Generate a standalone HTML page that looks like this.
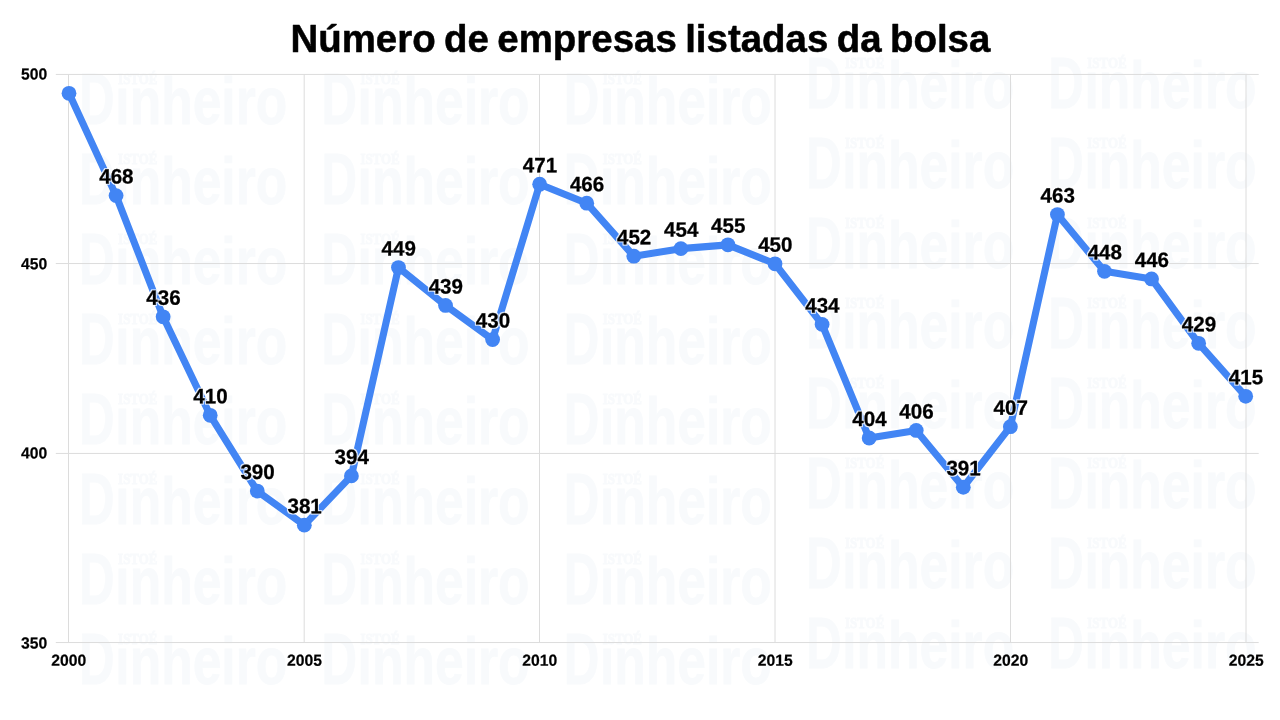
<!DOCTYPE html>
<html lang="pt-BR">
<head>
<meta charset="utf-8">
<title>Número de empresas listadas da bolsa</title>
<style>
html,body{margin:0;padding:0;background:#fff;}
body{width:1280px;height:720px;overflow:hidden;position:relative;font-family:"Liberation Sans",sans-serif;}
svg{position:absolute;left:0;top:0;display:block;}
.title{font-family:"Liberation Sans",sans-serif;font-weight:700;font-size:37.9px;word-spacing:-2.2px;fill:#000;stroke:#000;stroke-width:0.5px;stroke-linejoin:round;}
.ax{font-family:"Liberation Sans",sans-serif;font-weight:700;font-size:15.95px;fill:#000;stroke:#000;stroke-width:0.2px;}
.lb{font-family:"Liberation Sans",sans-serif;font-weight:700;font-size:20.9px;fill:#000;stroke:#000;stroke-width:0.3px;stroke-linejoin:round;}
.grid line{stroke:#dcdcdc;stroke-width:1;}
.wm{fill:#f8fafc;stroke:#f8fafc;}
.wm .d{font-family:"Liberation Sans",sans-serif;font-weight:700;font-size:66.5px;stroke-width:0.8px;stroke-linejoin:miter;}
.wm .i{font-family:"Liberation Serif",serif;font-weight:700;font-size:15.5px;stroke-width:1px;}
</style>
</head>
<body>
<svg width="1280" height="720" viewBox="0 0 1280 720">
<rect width="1280" height="720" fill="#fff"/>
<defs><filter id="halo" x="-2%" y="-2%" width="104%" height="104%" color-interpolation-filters="sRGB"><feMorphology in="SourceAlpha" operator="dilate" radius="1" result="d"/><feGaussianBlur in="d" stdDeviation="0.4" result="b"/><feFlood flood-color="#fff" flood-opacity="0.9"/><feComposite in2="b" operator="in" result="h"/><feMerge><feMergeNode in="h"/><feMergeNode in="SourceGraphic"/></feMerge></filter></defs>
<g class="wm">
<g transform="translate(81.5 73.5)"><text class="d" y="50.4"><tspan x="-2.4" style="font-size:71.5px" textLength="35.6" lengthAdjust="spacingAndGlyphs">D</tspan><tspan x="33.8" textLength="172" lengthAdjust="spacingAndGlyphs">inheiro</tspan></text><rect x="35" y="-4" width="42" height="15.5" fill="#fff" stroke="none"/><text class="i" x="36.6" y="10.4" textLength="39.3" lengthAdjust="spacingAndGlyphs">ISTOÉ</text></g>
<g transform="translate(81.5 153.5)"><text class="d" y="50.4"><tspan x="-2.4" style="font-size:71.5px" textLength="35.6" lengthAdjust="spacingAndGlyphs">D</tspan><tspan x="33.8" textLength="172" lengthAdjust="spacingAndGlyphs">inheiro</tspan></text><rect x="35" y="-4" width="42" height="15.5" fill="#fff" stroke="none"/><text class="i" x="36.6" y="10.4" textLength="39.3" lengthAdjust="spacingAndGlyphs">ISTOÉ</text></g>
<g transform="translate(81.5 233.5)"><text class="d" y="50.4"><tspan x="-2.4" style="font-size:71.5px" textLength="35.6" lengthAdjust="spacingAndGlyphs">D</tspan><tspan x="33.8" textLength="172" lengthAdjust="spacingAndGlyphs">inheiro</tspan></text><rect x="35" y="-4" width="42" height="15.5" fill="#fff" stroke="none"/><text class="i" x="36.6" y="10.4" textLength="39.3" lengthAdjust="spacingAndGlyphs">ISTOÉ</text></g>
<g transform="translate(81.5 313.5)"><text class="d" y="50.4"><tspan x="-2.4" style="font-size:71.5px" textLength="35.6" lengthAdjust="spacingAndGlyphs">D</tspan><tspan x="33.8" textLength="172" lengthAdjust="spacingAndGlyphs">inheiro</tspan></text><rect x="35" y="-4" width="42" height="15.5" fill="#fff" stroke="none"/><text class="i" x="36.6" y="10.4" textLength="39.3" lengthAdjust="spacingAndGlyphs">ISTOÉ</text></g>
<g transform="translate(81.5 393.5)"><text class="d" y="50.4"><tspan x="-2.4" style="font-size:71.5px" textLength="35.6" lengthAdjust="spacingAndGlyphs">D</tspan><tspan x="33.8" textLength="172" lengthAdjust="spacingAndGlyphs">inheiro</tspan></text><rect x="35" y="-4" width="42" height="15.5" fill="#fff" stroke="none"/><text class="i" x="36.6" y="10.4" textLength="39.3" lengthAdjust="spacingAndGlyphs">ISTOÉ</text></g>
<g transform="translate(81.5 473.5)"><text class="d" y="50.4"><tspan x="-2.4" style="font-size:71.5px" textLength="35.6" lengthAdjust="spacingAndGlyphs">D</tspan><tspan x="33.8" textLength="172" lengthAdjust="spacingAndGlyphs">inheiro</tspan></text><rect x="35" y="-4" width="42" height="15.5" fill="#fff" stroke="none"/><text class="i" x="36.6" y="10.4" textLength="39.3" lengthAdjust="spacingAndGlyphs">ISTOÉ</text></g>
<g transform="translate(81.5 553.5)"><text class="d" y="50.4"><tspan x="-2.4" style="font-size:71.5px" textLength="35.6" lengthAdjust="spacingAndGlyphs">D</tspan><tspan x="33.8" textLength="172" lengthAdjust="spacingAndGlyphs">inheiro</tspan></text><rect x="35" y="-4" width="42" height="15.5" fill="#fff" stroke="none"/><text class="i" x="36.6" y="10.4" textLength="39.3" lengthAdjust="spacingAndGlyphs">ISTOÉ</text></g>
<g transform="translate(81.5 633.5)"><text class="d" y="50.4"><tspan x="-2.4" style="font-size:71.5px" textLength="35.6" lengthAdjust="spacingAndGlyphs">D</tspan><tspan x="33.8" textLength="172" lengthAdjust="spacingAndGlyphs">inheiro</tspan></text><rect x="35" y="-4" width="42" height="15.5" fill="#fff" stroke="none"/><text class="i" x="36.6" y="10.4" textLength="39.3" lengthAdjust="spacingAndGlyphs">ISTOÉ</text></g>
<g transform="translate(323.8 73.5)"><text class="d" y="50.4"><tspan x="-2.4" style="font-size:71.5px" textLength="35.6" lengthAdjust="spacingAndGlyphs">D</tspan><tspan x="33.8" textLength="172" lengthAdjust="spacingAndGlyphs">inheiro</tspan></text><rect x="35" y="-4" width="42" height="15.5" fill="#fff" stroke="none"/><text class="i" x="36.6" y="10.4" textLength="39.3" lengthAdjust="spacingAndGlyphs">ISTOÉ</text></g>
<g transform="translate(323.8 153.5)"><text class="d" y="50.4"><tspan x="-2.4" style="font-size:71.5px" textLength="35.6" lengthAdjust="spacingAndGlyphs">D</tspan><tspan x="33.8" textLength="172" lengthAdjust="spacingAndGlyphs">inheiro</tspan></text><rect x="35" y="-4" width="42" height="15.5" fill="#fff" stroke="none"/><text class="i" x="36.6" y="10.4" textLength="39.3" lengthAdjust="spacingAndGlyphs">ISTOÉ</text></g>
<g transform="translate(323.8 233.5)"><text class="d" y="50.4"><tspan x="-2.4" style="font-size:71.5px" textLength="35.6" lengthAdjust="spacingAndGlyphs">D</tspan><tspan x="33.8" textLength="172" lengthAdjust="spacingAndGlyphs">inheiro</tspan></text><rect x="35" y="-4" width="42" height="15.5" fill="#fff" stroke="none"/><text class="i" x="36.6" y="10.4" textLength="39.3" lengthAdjust="spacingAndGlyphs">ISTOÉ</text></g>
<g transform="translate(323.8 313.5)"><text class="d" y="50.4"><tspan x="-2.4" style="font-size:71.5px" textLength="35.6" lengthAdjust="spacingAndGlyphs">D</tspan><tspan x="33.8" textLength="172" lengthAdjust="spacingAndGlyphs">inheiro</tspan></text><rect x="35" y="-4" width="42" height="15.5" fill="#fff" stroke="none"/><text class="i" x="36.6" y="10.4" textLength="39.3" lengthAdjust="spacingAndGlyphs">ISTOÉ</text></g>
<g transform="translate(323.8 393.5)"><text class="d" y="50.4"><tspan x="-2.4" style="font-size:71.5px" textLength="35.6" lengthAdjust="spacingAndGlyphs">D</tspan><tspan x="33.8" textLength="172" lengthAdjust="spacingAndGlyphs">inheiro</tspan></text><rect x="35" y="-4" width="42" height="15.5" fill="#fff" stroke="none"/><text class="i" x="36.6" y="10.4" textLength="39.3" lengthAdjust="spacingAndGlyphs">ISTOÉ</text></g>
<g transform="translate(323.8 473.5)"><text class="d" y="50.4"><tspan x="-2.4" style="font-size:71.5px" textLength="35.6" lengthAdjust="spacingAndGlyphs">D</tspan><tspan x="33.8" textLength="172" lengthAdjust="spacingAndGlyphs">inheiro</tspan></text><rect x="35" y="-4" width="42" height="15.5" fill="#fff" stroke="none"/><text class="i" x="36.6" y="10.4" textLength="39.3" lengthAdjust="spacingAndGlyphs">ISTOÉ</text></g>
<g transform="translate(323.8 553.5)"><text class="d" y="50.4"><tspan x="-2.4" style="font-size:71.5px" textLength="35.6" lengthAdjust="spacingAndGlyphs">D</tspan><tspan x="33.8" textLength="172" lengthAdjust="spacingAndGlyphs">inheiro</tspan></text><rect x="35" y="-4" width="42" height="15.5" fill="#fff" stroke="none"/><text class="i" x="36.6" y="10.4" textLength="39.3" lengthAdjust="spacingAndGlyphs">ISTOÉ</text></g>
<g transform="translate(323.8 633.5)"><text class="d" y="50.4"><tspan x="-2.4" style="font-size:71.5px" textLength="35.6" lengthAdjust="spacingAndGlyphs">D</tspan><tspan x="33.8" textLength="172" lengthAdjust="spacingAndGlyphs">inheiro</tspan></text><rect x="35" y="-4" width="42" height="15.5" fill="#fff" stroke="none"/><text class="i" x="36.6" y="10.4" textLength="39.3" lengthAdjust="spacingAndGlyphs">ISTOÉ</text></g>
<g transform="translate(566.1 73.5)"><text class="d" y="50.4"><tspan x="-2.4" style="font-size:71.5px" textLength="35.6" lengthAdjust="spacingAndGlyphs">D</tspan><tspan x="33.8" textLength="172" lengthAdjust="spacingAndGlyphs">inheiro</tspan></text><rect x="35" y="-4" width="42" height="15.5" fill="#fff" stroke="none"/><text class="i" x="36.6" y="10.4" textLength="39.3" lengthAdjust="spacingAndGlyphs">ISTOÉ</text></g>
<g transform="translate(566.1 153.5)"><text class="d" y="50.4"><tspan x="-2.4" style="font-size:71.5px" textLength="35.6" lengthAdjust="spacingAndGlyphs">D</tspan><tspan x="33.8" textLength="172" lengthAdjust="spacingAndGlyphs">inheiro</tspan></text><rect x="35" y="-4" width="42" height="15.5" fill="#fff" stroke="none"/><text class="i" x="36.6" y="10.4" textLength="39.3" lengthAdjust="spacingAndGlyphs">ISTOÉ</text></g>
<g transform="translate(566.1 233.5)"><text class="d" y="50.4"><tspan x="-2.4" style="font-size:71.5px" textLength="35.6" lengthAdjust="spacingAndGlyphs">D</tspan><tspan x="33.8" textLength="172" lengthAdjust="spacingAndGlyphs">inheiro</tspan></text><rect x="35" y="-4" width="42" height="15.5" fill="#fff" stroke="none"/><text class="i" x="36.6" y="10.4" textLength="39.3" lengthAdjust="spacingAndGlyphs">ISTOÉ</text></g>
<g transform="translate(566.1 313.5)"><text class="d" y="50.4"><tspan x="-2.4" style="font-size:71.5px" textLength="35.6" lengthAdjust="spacingAndGlyphs">D</tspan><tspan x="33.8" textLength="172" lengthAdjust="spacingAndGlyphs">inheiro</tspan></text><rect x="35" y="-4" width="42" height="15.5" fill="#fff" stroke="none"/><text class="i" x="36.6" y="10.4" textLength="39.3" lengthAdjust="spacingAndGlyphs">ISTOÉ</text></g>
<g transform="translate(566.1 393.5)"><text class="d" y="50.4"><tspan x="-2.4" style="font-size:71.5px" textLength="35.6" lengthAdjust="spacingAndGlyphs">D</tspan><tspan x="33.8" textLength="172" lengthAdjust="spacingAndGlyphs">inheiro</tspan></text><rect x="35" y="-4" width="42" height="15.5" fill="#fff" stroke="none"/><text class="i" x="36.6" y="10.4" textLength="39.3" lengthAdjust="spacingAndGlyphs">ISTOÉ</text></g>
<g transform="translate(566.1 473.5)"><text class="d" y="50.4"><tspan x="-2.4" style="font-size:71.5px" textLength="35.6" lengthAdjust="spacingAndGlyphs">D</tspan><tspan x="33.8" textLength="172" lengthAdjust="spacingAndGlyphs">inheiro</tspan></text><rect x="35" y="-4" width="42" height="15.5" fill="#fff" stroke="none"/><text class="i" x="36.6" y="10.4" textLength="39.3" lengthAdjust="spacingAndGlyphs">ISTOÉ</text></g>
<g transform="translate(566.1 553.5)"><text class="d" y="50.4"><tspan x="-2.4" style="font-size:71.5px" textLength="35.6" lengthAdjust="spacingAndGlyphs">D</tspan><tspan x="33.8" textLength="172" lengthAdjust="spacingAndGlyphs">inheiro</tspan></text><rect x="35" y="-4" width="42" height="15.5" fill="#fff" stroke="none"/><text class="i" x="36.6" y="10.4" textLength="39.3" lengthAdjust="spacingAndGlyphs">ISTOÉ</text></g>
<g transform="translate(566.1 633.5)"><text class="d" y="50.4"><tspan x="-2.4" style="font-size:71.5px" textLength="35.6" lengthAdjust="spacingAndGlyphs">D</tspan><tspan x="33.8" textLength="172" lengthAdjust="spacingAndGlyphs">inheiro</tspan></text><rect x="35" y="-4" width="42" height="15.5" fill="#fff" stroke="none"/><text class="i" x="36.6" y="10.4" textLength="39.3" lengthAdjust="spacingAndGlyphs">ISTOÉ</text></g>
<g transform="translate(808.4 57.5)"><text class="d" y="50.4"><tspan x="-2.4" style="font-size:71.5px" textLength="35.6" lengthAdjust="spacingAndGlyphs">D</tspan><tspan x="33.8" textLength="172" lengthAdjust="spacingAndGlyphs">inheiro</tspan></text><rect x="35" y="-4" width="42" height="15.5" fill="#fff" stroke="none"/><text class="i" x="36.6" y="10.4" textLength="39.3" lengthAdjust="spacingAndGlyphs">ISTOÉ</text></g>
<g transform="translate(808.4 137.5)"><text class="d" y="50.4"><tspan x="-2.4" style="font-size:71.5px" textLength="35.6" lengthAdjust="spacingAndGlyphs">D</tspan><tspan x="33.8" textLength="172" lengthAdjust="spacingAndGlyphs">inheiro</tspan></text><rect x="35" y="-4" width="42" height="15.5" fill="#fff" stroke="none"/><text class="i" x="36.6" y="10.4" textLength="39.3" lengthAdjust="spacingAndGlyphs">ISTOÉ</text></g>
<g transform="translate(808.4 217.5)"><text class="d" y="50.4"><tspan x="-2.4" style="font-size:71.5px" textLength="35.6" lengthAdjust="spacingAndGlyphs">D</tspan><tspan x="33.8" textLength="172" lengthAdjust="spacingAndGlyphs">inheiro</tspan></text><rect x="35" y="-4" width="42" height="15.5" fill="#fff" stroke="none"/><text class="i" x="36.6" y="10.4" textLength="39.3" lengthAdjust="spacingAndGlyphs">ISTOÉ</text></g>
<g transform="translate(808.4 297.5)"><text class="d" y="50.4"><tspan x="-2.4" style="font-size:71.5px" textLength="35.6" lengthAdjust="spacingAndGlyphs">D</tspan><tspan x="33.8" textLength="172" lengthAdjust="spacingAndGlyphs">inheiro</tspan></text><rect x="35" y="-4" width="42" height="15.5" fill="#fff" stroke="none"/><text class="i" x="36.6" y="10.4" textLength="39.3" lengthAdjust="spacingAndGlyphs">ISTOÉ</text></g>
<g transform="translate(808.4 377.5)"><text class="d" y="50.4"><tspan x="-2.4" style="font-size:71.5px" textLength="35.6" lengthAdjust="spacingAndGlyphs">D</tspan><tspan x="33.8" textLength="172" lengthAdjust="spacingAndGlyphs">inheiro</tspan></text><rect x="35" y="-4" width="42" height="15.5" fill="#fff" stroke="none"/><text class="i" x="36.6" y="10.4" textLength="39.3" lengthAdjust="spacingAndGlyphs">ISTOÉ</text></g>
<g transform="translate(808.4 457.5)"><text class="d" y="50.4"><tspan x="-2.4" style="font-size:71.5px" textLength="35.6" lengthAdjust="spacingAndGlyphs">D</tspan><tspan x="33.8" textLength="172" lengthAdjust="spacingAndGlyphs">inheiro</tspan></text><rect x="35" y="-4" width="42" height="15.5" fill="#fff" stroke="none"/><text class="i" x="36.6" y="10.4" textLength="39.3" lengthAdjust="spacingAndGlyphs">ISTOÉ</text></g>
<g transform="translate(808.4 537.5)"><text class="d" y="50.4"><tspan x="-2.4" style="font-size:71.5px" textLength="35.6" lengthAdjust="spacingAndGlyphs">D</tspan><tspan x="33.8" textLength="172" lengthAdjust="spacingAndGlyphs">inheiro</tspan></text><rect x="35" y="-4" width="42" height="15.5" fill="#fff" stroke="none"/><text class="i" x="36.6" y="10.4" textLength="39.3" lengthAdjust="spacingAndGlyphs">ISTOÉ</text></g>
<g transform="translate(808.4 617.5)"><text class="d" y="50.4"><tspan x="-2.4" style="font-size:71.5px" textLength="35.6" lengthAdjust="spacingAndGlyphs">D</tspan><tspan x="33.8" textLength="172" lengthAdjust="spacingAndGlyphs">inheiro</tspan></text><rect x="35" y="-4" width="42" height="15.5" fill="#fff" stroke="none"/><text class="i" x="36.6" y="10.4" textLength="39.3" lengthAdjust="spacingAndGlyphs">ISTOÉ</text></g>
<g transform="translate(1050.7 57.5)"><text class="d" y="50.4"><tspan x="-2.4" style="font-size:71.5px" textLength="35.6" lengthAdjust="spacingAndGlyphs">D</tspan><tspan x="33.8" textLength="172" lengthAdjust="spacingAndGlyphs">inheiro</tspan></text><rect x="35" y="-4" width="42" height="15.5" fill="#fff" stroke="none"/><text class="i" x="36.6" y="10.4" textLength="39.3" lengthAdjust="spacingAndGlyphs">ISTOÉ</text></g>
<g transform="translate(1050.7 137.5)"><text class="d" y="50.4"><tspan x="-2.4" style="font-size:71.5px" textLength="35.6" lengthAdjust="spacingAndGlyphs">D</tspan><tspan x="33.8" textLength="172" lengthAdjust="spacingAndGlyphs">inheiro</tspan></text><rect x="35" y="-4" width="42" height="15.5" fill="#fff" stroke="none"/><text class="i" x="36.6" y="10.4" textLength="39.3" lengthAdjust="spacingAndGlyphs">ISTOÉ</text></g>
<g transform="translate(1050.7 217.5)"><text class="d" y="50.4"><tspan x="-2.4" style="font-size:71.5px" textLength="35.6" lengthAdjust="spacingAndGlyphs">D</tspan><tspan x="33.8" textLength="172" lengthAdjust="spacingAndGlyphs">inheiro</tspan></text><rect x="35" y="-4" width="42" height="15.5" fill="#fff" stroke="none"/><text class="i" x="36.6" y="10.4" textLength="39.3" lengthAdjust="spacingAndGlyphs">ISTOÉ</text></g>
<g transform="translate(1050.7 297.5)"><text class="d" y="50.4"><tspan x="-2.4" style="font-size:71.5px" textLength="35.6" lengthAdjust="spacingAndGlyphs">D</tspan><tspan x="33.8" textLength="172" lengthAdjust="spacingAndGlyphs">inheiro</tspan></text><rect x="35" y="-4" width="42" height="15.5" fill="#fff" stroke="none"/><text class="i" x="36.6" y="10.4" textLength="39.3" lengthAdjust="spacingAndGlyphs">ISTOÉ</text></g>
<g transform="translate(1050.7 377.5)"><text class="d" y="50.4"><tspan x="-2.4" style="font-size:71.5px" textLength="35.6" lengthAdjust="spacingAndGlyphs">D</tspan><tspan x="33.8" textLength="172" lengthAdjust="spacingAndGlyphs">inheiro</tspan></text><rect x="35" y="-4" width="42" height="15.5" fill="#fff" stroke="none"/><text class="i" x="36.6" y="10.4" textLength="39.3" lengthAdjust="spacingAndGlyphs">ISTOÉ</text></g>
<g transform="translate(1050.7 457.5)"><text class="d" y="50.4"><tspan x="-2.4" style="font-size:71.5px" textLength="35.6" lengthAdjust="spacingAndGlyphs">D</tspan><tspan x="33.8" textLength="172" lengthAdjust="spacingAndGlyphs">inheiro</tspan></text><rect x="35" y="-4" width="42" height="15.5" fill="#fff" stroke="none"/><text class="i" x="36.6" y="10.4" textLength="39.3" lengthAdjust="spacingAndGlyphs">ISTOÉ</text></g>
<g transform="translate(1050.7 537.5)"><text class="d" y="50.4"><tspan x="-2.4" style="font-size:71.5px" textLength="35.6" lengthAdjust="spacingAndGlyphs">D</tspan><tspan x="33.8" textLength="172" lengthAdjust="spacingAndGlyphs">inheiro</tspan></text><rect x="35" y="-4" width="42" height="15.5" fill="#fff" stroke="none"/><text class="i" x="36.6" y="10.4" textLength="39.3" lengthAdjust="spacingAndGlyphs">ISTOÉ</text></g>
<g transform="translate(1050.7 617.5)"><text class="d" y="50.4"><tspan x="-2.4" style="font-size:71.5px" textLength="35.6" lengthAdjust="spacingAndGlyphs">D</tspan><tspan x="33.8" textLength="172" lengthAdjust="spacingAndGlyphs">inheiro</tspan></text><rect x="35" y="-4" width="42" height="15.5" fill="#fff" stroke="none"/><text class="i" x="36.6" y="10.4" textLength="39.3" lengthAdjust="spacingAndGlyphs">ISTOÉ</text></g>
</g>
<g class="grid"><line x1="55.8" x2="1258.7" y1="74.45" y2="74.45"/><line x1="55.8" x2="1258.7" y1="263.55" y2="263.55"/><line x1="55.8" x2="1258.7" y1="453.45" y2="453.45"/><line x1="55.8" x2="1258.7" y1="642.55" y2="642.55"/><line x1="68.50" x2="68.50" y1="74.4" y2="642.55"/><line x1="304.20" x2="304.20" y1="74.4" y2="642.55"/><line x1="539.50" x2="539.50" y1="74.4" y2="642.55"/><line x1="775.00" x2="775.00" y1="74.4" y2="642.55"/><line x1="1010.50" x2="1010.50" y1="74.4" y2="642.55"/><line x1="1246.00" x2="1246.00" y1="74.4" y2="642.55"/></g>
<text class="title" transform="translate(640.4 52.2) rotate(0.02) scale(1.014 1)" text-anchor="middle">Número de empresas listadas da bolsa</text>
<text class="ax" transform="translate(47.2 79.50) rotate(0.03) scale(0.985 1)" text-anchor="end">500</text><text class="ax" transform="translate(47.2 269.30) rotate(0.03) scale(0.985 1)" text-anchor="end">450</text><text class="ax" transform="translate(47.2 458.50) rotate(0.03) scale(0.985 1)" text-anchor="end">400</text><text class="ax" transform="translate(47.2 648.45) rotate(0.03) scale(0.985 1)" text-anchor="end">350</text><text class="ax" transform="translate(68.80 665.8) rotate(0.03) scale(0.985 1)" text-anchor="middle">2000</text><text class="ax" transform="translate(304.50 665.8) rotate(0.03) scale(0.985 1)" text-anchor="middle">2005</text><text class="ax" transform="translate(539.80 665.8) rotate(0.03) scale(0.985 1)" text-anchor="middle">2010</text><text class="ax" transform="translate(775.30 665.8) rotate(0.03) scale(0.985 1)" text-anchor="middle">2015</text><text class="ax" transform="translate(1010.80 665.8) rotate(0.03) scale(0.985 1)" text-anchor="middle">2020</text><text class="ax" transform="translate(1246.30 665.8) rotate(0.03) scale(0.985 1)" text-anchor="middle">2025</text>
<polyline points="69.00,93.34 116.07,195.61 163.14,316.81 210.20,415.29 257.27,491.04 304.34,525.13 351.41,475.89 398.48,267.57 445.54,305.45 492.61,339.54 539.68,184.24 586.75,203.18 633.82,256.21 680.88,248.63 727.95,244.84 775.02,263.78 822.09,324.39 869.16,438.02 916.22,430.44 963.29,487.26 1010.36,426.65 1057.43,214.54 1104.50,271.36 1151.56,278.93 1198.63,343.32 1245.70,396.35" fill="none" stroke="#4285f4" stroke-width="7.1" stroke-linejoin="round" stroke-linecap="round"/>
<circle cx="69.00" cy="93.34" r="7.4" fill="#4285f4"/><circle cx="116.07" cy="195.61" r="7.4" fill="#4285f4"/><circle cx="163.14" cy="316.81" r="7.4" fill="#4285f4"/><circle cx="210.20" cy="415.29" r="7.4" fill="#4285f4"/><circle cx="257.27" cy="491.04" r="7.4" fill="#4285f4"/><circle cx="304.34" cy="525.13" r="7.4" fill="#4285f4"/><circle cx="351.41" cy="475.89" r="7.4" fill="#4285f4"/><circle cx="398.48" cy="267.57" r="7.4" fill="#4285f4"/><circle cx="445.54" cy="305.45" r="7.4" fill="#4285f4"/><circle cx="492.61" cy="339.54" r="7.4" fill="#4285f4"/><circle cx="539.68" cy="184.24" r="7.4" fill="#4285f4"/><circle cx="586.75" cy="203.18" r="7.4" fill="#4285f4"/><circle cx="633.82" cy="256.21" r="7.4" fill="#4285f4"/><circle cx="680.88" cy="248.63" r="7.4" fill="#4285f4"/><circle cx="727.95" cy="244.84" r="7.4" fill="#4285f4"/><circle cx="775.02" cy="263.78" r="7.4" fill="#4285f4"/><circle cx="822.09" cy="324.39" r="7.4" fill="#4285f4"/><circle cx="869.16" cy="438.02" r="7.4" fill="#4285f4"/><circle cx="916.22" cy="430.44" r="7.4" fill="#4285f4"/><circle cx="963.29" cy="487.26" r="7.4" fill="#4285f4"/><circle cx="1010.36" cy="426.65" r="7.4" fill="#4285f4"/><circle cx="1057.43" cy="214.54" r="7.4" fill="#4285f4"/><circle cx="1104.50" cy="271.36" r="7.4" fill="#4285f4"/><circle cx="1151.56" cy="278.93" r="7.4" fill="#4285f4"/><circle cx="1198.63" cy="343.32" r="7.4" fill="#4285f4"/><circle cx="1245.70" cy="396.35" r="7.4" fill="#4285f4"/>
<g filter="url(#halo)"><text class="lb" transform="translate(116.37 183.61) rotate(0.03) scale(0.985 1)" text-anchor="middle">468</text><text class="lb" transform="translate(163.44 304.81) rotate(0.03) scale(0.985 1)" text-anchor="middle">436</text><text class="lb" transform="translate(210.50 403.29) rotate(0.03) scale(0.985 1)" text-anchor="middle">410</text><text class="lb" transform="translate(257.57 479.04) rotate(0.03) scale(0.985 1)" text-anchor="middle">390</text><text class="lb" transform="translate(304.64 513.13) rotate(0.03) scale(0.985 1)" text-anchor="middle">381</text><text class="lb" transform="translate(351.71 463.89) rotate(0.03) scale(0.985 1)" text-anchor="middle">394</text><text class="lb" transform="translate(398.78 255.57) rotate(0.03) scale(0.985 1)" text-anchor="middle">449</text><text class="lb" transform="translate(445.84 293.45) rotate(0.03) scale(0.985 1)" text-anchor="middle">439</text><text class="lb" transform="translate(492.91 327.54) rotate(0.03) scale(0.985 1)" text-anchor="middle">430</text><text class="lb" transform="translate(539.98 172.24) rotate(0.03) scale(0.985 1)" text-anchor="middle">471</text><text class="lb" transform="translate(587.05 191.18) rotate(0.03) scale(0.985 1)" text-anchor="middle">466</text><text class="lb" transform="translate(634.12 244.21) rotate(0.03) scale(0.985 1)" text-anchor="middle">452</text><text class="lb" transform="translate(681.18 236.63) rotate(0.03) scale(0.985 1)" text-anchor="middle">454</text><text class="lb" transform="translate(728.25 232.84) rotate(0.03) scale(0.985 1)" text-anchor="middle">455</text><text class="lb" transform="translate(775.32 251.78) rotate(0.03) scale(0.985 1)" text-anchor="middle">450</text><text class="lb" transform="translate(822.39 312.39) rotate(0.03) scale(0.985 1)" text-anchor="middle">434</text><text class="lb" transform="translate(869.46 426.02) rotate(0.03) scale(0.985 1)" text-anchor="middle">404</text><text class="lb" transform="translate(916.52 418.44) rotate(0.03) scale(0.985 1)" text-anchor="middle">406</text><text class="lb" transform="translate(963.59 475.26) rotate(0.03) scale(0.985 1)" text-anchor="middle">391</text><text class="lb" transform="translate(1010.66 414.65) rotate(0.03) scale(0.985 1)" text-anchor="middle">407</text><text class="lb" transform="translate(1057.73 202.54) rotate(0.03) scale(0.985 1)" text-anchor="middle">463</text><text class="lb" transform="translate(1104.80 259.36) rotate(0.03) scale(0.985 1)" text-anchor="middle">448</text><text class="lb" transform="translate(1151.86 266.93) rotate(0.03) scale(0.985 1)" text-anchor="middle">446</text><text class="lb" transform="translate(1198.93 331.32) rotate(0.03) scale(0.985 1)" text-anchor="middle">429</text><text class="lb" transform="translate(1246.00 384.35) rotate(0.03) scale(0.985 1)" text-anchor="middle">415</text></g>
</svg>
</body>
</html>
